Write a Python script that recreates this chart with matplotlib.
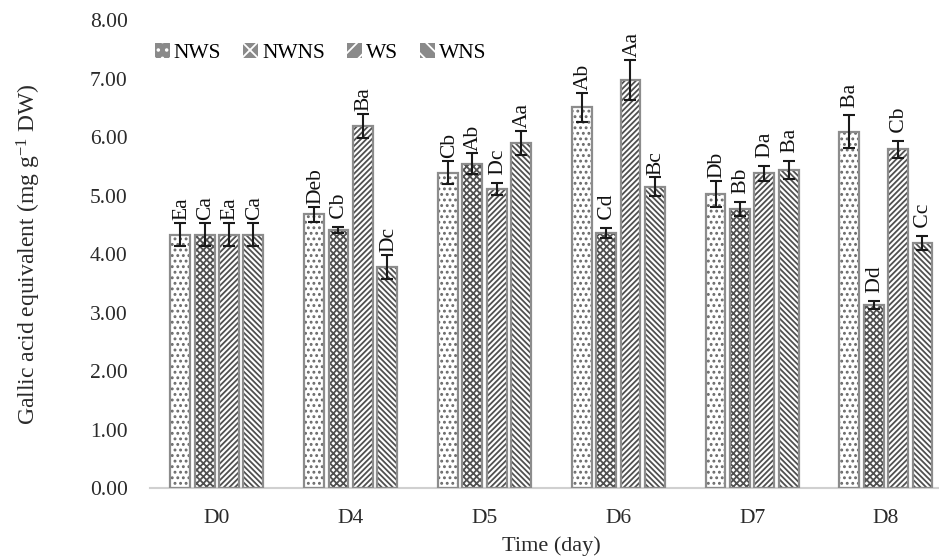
import matplotlib; matplotlib.use("Agg")
import matplotlib.pyplot as plt
import numpy as np

plt.rcParams.update({"font.family": "Liberation Serif", "font.size": 15.5,
                     "mathtext.fontset": "custom", "mathtext.rm": "Liberation Serif",
                     "mathtext.it": "Liberation Serif:italic", "hatch.linewidth": 1.3})

days = ["D0", "D4", "D5", "D6", "D7", "D8"]
series = ["NWS", "NWNS", "WS", "WNS"]
nws = [4.33, 4.68, 5.39, 6.51, 5.03, 6.09]
nwns = [4.33, 4.41, 5.54, 4.36, 4.77, 3.13]
ws = [4.33, 6.19, 5.11, 6.98, 5.38, 5.79]
wns = [4.33, 3.78, 5.90, 5.15, 5.44, 4.19]
nws_err = [0.20, 0.13, 0.20, 0.25, 0.22, 0.28]
nwns_err = [0.20, 0.05, 0.18, 0.08, 0.12, 0.07]
ws_err = [0.20, 0.20, 0.10, 0.34, 0.13, 0.15]
wns_err = [0.20, 0.20, 0.20, 0.16, 0.15, 0.12]
nws_lab = ["Ea", "Deb", "Cb", "Ab", "Db", " Ba"]
nwns_lab = ["Ca", " Cb", "Ab", " Cd", " Bb", " Dd"]
ws_lab = ["Ea", "Ba", " Dc", "Aa", " Da", " Cb"]
wns_lab = ["Ca", "Dc", "Aa", "Bc", " Ba", " Cc"]

vals = [nws, nwns, ws, wns]
errs = [nws_err, nwns_err, ws_err, wns_err]
labs = [nws_lab, nwns_lab, ws_lab, wns_lab]
hatches = ["...", "xxxxx", "//////", "\\" * 6]
hatch_cols = ["#6a6a6a", "#505050", "#505050", "#505050"]

fig = plt.figure(figsize=(9.39, 5.56), dpi=100)
ax = fig.add_axes([0.1597, 0.1223, 0.855, 0.8417])
x = np.arange(len(days))
step, w = 0.182, 0.148
handles = []
for i, name in enumerate(series):
    xs = x + (i - 1.5) * step
    ax.bar(xs, vals[i], w, color="white", edgecolor=hatch_cols[i], linewidth=0, hatch=hatches[i], zorder=2)
    ax.bar(xs, vals[i], w, fill=False, edgecolor="#8c8c8c", linewidth=1.6, zorder=3)
    ax.errorbar(xs, vals[i], yerr=errs[i], fmt="none", ecolor="#1a1a1a", elinewidth=1.5,
                capsize=4, capthick=1.5, zorder=4)
    for xx, v, e, t in zip(xs, vals[i], errs[i], labs[i]):
        ax.annotate(t, (xx, v + e), xytext=(1, 2), textcoords="offset points",
                    rotation=90, ha="center", va="bottom", fontsize=15.5, color="#111111")
    h = plt.Rectangle((0, 0), 1, 1, facecolor="#8a8a8a", edgecolor="white", hatch=hatches[i][:2], linewidth=0)
    handles.append(h)

ax.set_xlim(-0.5, 5.5)
ax.set_ylim(0, 8)
ax.set_yticks(np.arange(0, 9, 1))
ax.set_yticklabels([f"{v:.2f}" for v in np.arange(0, 9, 1)])
ax.set_xticks(x)
ax.set_xticklabels(days)
ax.tick_params(axis="both", length=0, colors="#2a2a2a")
ax.tick_params(axis="y", pad=16)
ax.tick_params(axis="x", pad=15)
for s in ["top", "right", "left"]:
    ax.spines[s].set_visible(False)
ax.spines["bottom"].set_color("#d0d0d0")
ax.spines["bottom"].set_linewidth(1.5)
ax.set_xlabel("Time (day)", color="#2a2a2a", labelpad=6, fontsize=16)
ax.set_ylabel("Gallic acid equivalent (mg g$^{-1}$ DW)", color="#2a2a2a", labelpad=34, fontsize=17)
ax.legend(handles, series, ncol=4, frameon=False, loc="upper left", bbox_to_anchor=(-0.005, 0.97),
          handlelength=0.7, handleheight=0.7, handletextpad=0.2, columnspacing=1.0, borderaxespad=0)
fig.savefig("out.png", dpi=100)
